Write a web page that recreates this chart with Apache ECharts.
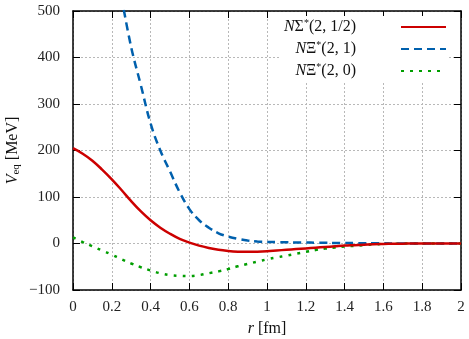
<!DOCTYPE html>
<html>
<head>
<meta charset="utf-8">
<script src="https://cdn.jsdelivr.net/npm/echarts@6/dist/echarts.min.js"></script>
<style>
  html, body { margin: 0; padding: 0; background: #fff; }
  #main { width: 469px; height: 339px; }
</style>
</head>
<body>
<div id="main"></div>
<script>
// r [fm] sample points
var rVals = [0, 0.05, 0.1, 0.15, 0.2, 0.25, 0.3, 0.35, 0.4, 0.45,
  0.5, 0.55, 0.6, 0.65, 0.7, 0.75, 0.8, 0.85, 0.9, 0.95,
  1.0, 1.05, 1.1, 1.15, 1.2, 1.25, 1.3, 1.35, 1.4, 1.45,
  1.5, 1.55, 1.6, 1.65, 1.7, 1.75, 1.8, 1.85, 1.9, 1.95, 2.0];

// N Sigma*(2,1/2)
var sigmaHalf = [205, 193, 178, 159, 138, 115, 91, 69, 50, 34,
  21, 10, 2, -4.5, -9.5, -13.5, -16, -17.5, -18, -17.5,
  -16.5, -15, -13.5, -12, -10.5, -9, -7.5, -6, -4.5, -3.5,
  -2.5, -1.5, -1, -0.5, -0.3, 0, 0, 0, 0, 0, 0];

// N Xi*(2,1)
var xiOne = [null, null, null, null, null, 530, 422, 340, 258, 200,
  155, 110, 74, 50, 34, 22, 15, 10, 6.5, 4.5,
  3.5, 3, 2.5, 2.2, 2, 1.8, 1.5, 1.2, 1, 0.8,
  0.6, 0.4, 0.3, 0.2, 0.1, 0, 0, 0, 0, 0, 0];

// N Xi*(2,0)
var xiZero = [13, 3, -6, -15, -24, -34, -43, -51, -58, -64,
  -68, -69.5, -70, -68, -64, -60, -55, -49, -44, -39,
  -34, -30, -26, -22, -18, -14, -11, -8.5, -6.5, -5,
  -3.5, -2, -1, -0.5, -0.2, 0, 0, 0, 0, 0, 0];

var seriesNames = ['NΣ*(2,1/2)', 'NΞ*(2,1)', 'NΞ*(2,0)'];
var legendText = {
  'NΣ*(2,1/2)': '{i|N}Σ{s|*}(2, 1/2)',
  'NΞ*(2,1)': '{i|N}Ξ{s|*}(2, 1)',
  'NΞ*(2,0)': '{i|N}Ξ{s|*}(2, 0)'
};

function pairs(vals) {
  var out = [];
  for (var i = 0; i < rVals.length; i++) {
    out.push([rVals[i], vals[i]]);
  }
  return out;
}

var serif = 'Liberation Serif';
var frameLine = { onZero: false, lineStyle: { color: '#000', width: 1.5 } };
var innerTick = { show: true, inside: true, length: 7, lineStyle: { color: '#000' } };
var gridLine = { show: true, lineStyle: { color: '#b8b8b8', type: [2, 2], width: 1 } };

var myChart = echarts.init(document.getElementById('main'));
var option = {
  animation: false,
  backgroundColor: '#fff',
  textStyle: { fontFamily: serif },
  grid: { left: 73, right: 8, top: 11, bottom: 49, containLabel: false, outerBoundsMode: 'none' },
  legend: {
    data: seriesNames,
    orient: 'vertical',
    right: 22,
    top: 16,
    align: 'right',
    itemWidth: 45,
    itemHeight: 10,
    itemGap: 5,
    backgroundColor: '#fff',
    padding: [2, 0, 2, 4],
    itemStyle: { opacity: 0 },
    formatter: function (name) { return legendText[name]; },
    textStyle: {
      fontFamily: serif,
      fontSize: 16,
      color: '#111',
      padding: [0, 40, 0, 0],
      rich: {
        i: { fontFamily: serif, fontStyle: 'italic', fontSize: 16 },
        s: { fontFamily: serif, fontSize: 10, verticalAlign: 'top', padding: [0, 0, 8, 0] }
      }
    }
  },
  xAxis: [{
    type: 'value',
    min: 0,
    max: 2,
    interval: 0.2,
    name: '{i|r} [fm]',
    nameLocation: 'middle',
    nameGap: 31,
    nameMoveOverlap: false,
    nameTextStyle: {
      fontFamily: serif, fontSize: 16, color: '#111',
      rich: { i: { fontFamily: serif, fontStyle: 'italic', fontSize: 16 } }
    },
    axisLine: frameLine,
    axisTick: innerTick,
    axisLabel: { fontFamily: serif, fontSize: 15, color: '#222', margin: 10 },
    splitLine: gridLine
  }, {
    type: 'value',
    position: 'top',
    min: 0,
    max: 2,
    interval: 0.2,
    axisLine: frameLine,
    axisTick: innerTick,
    axisLabel: { show: false },
    splitLine: { show: false }
  }],
  yAxis: [{
    type: 'value',
    min: -100,
    max: 500,
    interval: 100,
    name: '{i|V}{sub|eq} [MeV]',
    nameLocation: 'middle',
    nameRotate: 90,
    nameGap: 51,
    nameMoveOverlap: false,
    nameTextStyle: {
      fontFamily: serif, fontSize: 16, color: '#111',
      rich: {
        i: { fontFamily: serif, fontStyle: 'italic', fontSize: 16 },
        sub: { fontFamily: serif, fontSize: 11, padding: [8, 0, 0, 0] }
      }
    },
    axisLine: frameLine,
    axisTick: innerTick,
    axisLabel: {
      fontFamily: serif, fontSize: 15, color: '#222', margin: 13,
      formatter: function (v) { return String(v).replace('-', '\u2212'); }
    },
    splitLine: gridLine
  }, {
    type: 'value',
    position: 'right',
    min: -100,
    max: 500,
    interval: 100,
    axisLine: { show: true, onZero: false, lineStyle: { color: '#000', width: 1.5 } },
    axisTick: innerTick,
    axisLabel: { show: false },
    splitLine: { show: false }
  }],
  series: [{
    name: seriesNames[0],
    type: 'line',
    data: pairs(sigmaHalf),
    showSymbol: false,
    smooth: 0.4,
    clip: true,
    lineStyle: { color: '#cc0000', width: 2.5 },
    itemStyle: { color: '#cc0000' },
    z: 3
  }, {
    name: seriesNames[1],
    type: 'line',
    data: pairs(xiOne),
    showSymbol: false,
    smooth: 0.4,
    clip: true,
    lineStyle: { color: '#0060ad', width: 2.5, type: [8, 5] },
    itemStyle: { color: '#0060ad' },
    z: 2
  }, {
    name: seriesNames[2],
    type: 'line',
    data: pairs(xiZero),
    showSymbol: false,
    smooth: 0.4,
    clip: true,
    lineStyle: { color: '#009e00', width: 2.5, type: [3, 6] },
    itemStyle: { color: '#009e00' },
    z: 1
  }]
};
myChart.setOption(option);
</script>
</body>
</html>
